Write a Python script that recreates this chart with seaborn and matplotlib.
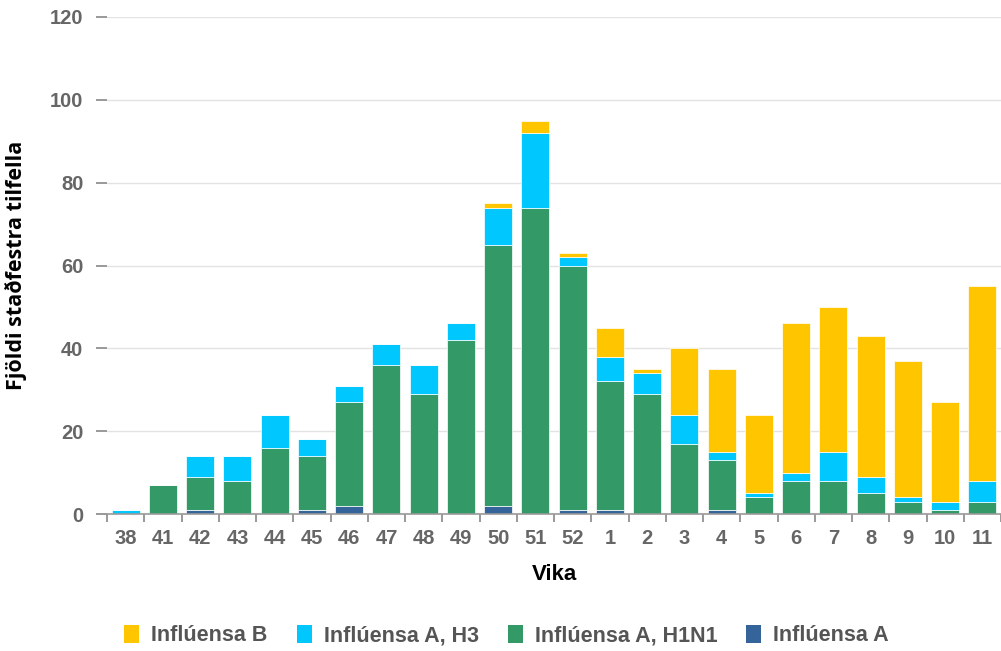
import numpy as np
import matplotlib
matplotlib.use("Agg")
import matplotlib.pyplot as plt
import seaborn as sns
from matplotlib.patches import Patch

# Week labels and counts per influenza type
weeks = ["38", "41", "42", "43", "44", "45", "46", "47", "48", "49", "50", "51",
         "52", "1", "2", "3", "4", "5", "6", "7", "8", "9", "10", "11"]
flu_a = [0, 0, 1, 0, 0, 1, 2, 0, 0, 0, 2, 0, 1, 1, 0, 0, 1, 0, 0, 0, 0, 0, 0, 0]
flu_h1n1 = [0, 7, 8, 8, 16, 13, 25, 36, 29, 42, 63, 74, 59, 31, 29, 17, 12, 4, 8, 8, 5, 3, 1, 3]
flu_h3 = [1, 0, 5, 6, 8, 4, 4, 5, 7, 4, 9, 18, 2, 6, 5, 7, 2, 1, 2, 7, 4, 1, 2, 5]
flu_b = [0, 0, 0, 0, 0, 0, 0, 0, 0, 0, 1, 3, 1, 7, 1, 16, 20, 19, 36, 35, 34, 33, 24, 47]

# stacked bottom -> top
series = [
    ("Inflúensa A", flu_a, "#35649b"),
    ("Inflúensa A, H1N1", flu_h1n1, "#339966"),
    ("Inflúensa A, H3", flu_h3, "#00c8ff"),
    ("Inflúensa B", flu_b, "#ffc600"),
]

sns.set_style("white")
plt.rcParams["font.family"] = ["Liberation Sans", "DejaVu Sans"]

fig = plt.figure(figsize=(10.01, 6.51), dpi=100)
ax = fig.add_axes([0.107, 0.2104, 0.893, 0.7635])

bottom = np.zeros(len(weeks))
for name, vals, col in series:
    sns.barplot(x=weeks, y=vals, order=weeks, bottom=bottom, color=col,
                saturation=1, width=0.75, errorbar=None, ax=ax,
                edgecolor="white", linewidth=0.5)
    bottom = bottom + np.array(vals)

ax.set_ylim(0, 120)
ax.set_xlim(-0.5, len(weeks) - 0.5)
ax.set_yticks(range(0, 121, 20))
ax.yaxis.grid(True, color="#e3e3e3", linewidth=1)
ax.set_axisbelow(True)
for s in ["top", "right", "left"]:
    ax.spines[s].set_visible(False)
ax.spines["bottom"].set_color("#999999")
ax.spines["bottom"].set_linewidth(1.2)

ax.tick_params(axis="y", length=8, width=1.2, color="#888888", pad=9,
               labelsize=14.5, labelcolor="#666666", left=True)
ax.tick_params(axis="x", which="major", length=0, pad=11,
               labelsize=14.5, labelcolor="#666666")
ax.set_xticks(np.arange(-0.5, len(weeks), 1), minor=True)
ax.tick_params(axis="x", which="minor", length=6, width=1.2, color="#888888", bottom=True)
for lab in ax.get_xticklabels() + ax.get_yticklabels():
    lab.set_fontweight("bold")

ax.set_xlabel("Vika", fontsize=16, fontweight="bold", color="black")
ax.xaxis.set_label_coords(0.5, -0.1)
ax.set_ylabel("Fjöldi staðfestra tilfella", fontsize=15.5, fontweight="bold",
              color="black", family=["Open Sans", "DejaVu Sans"])
ax.yaxis.set_label_coords(-0.09, 0.5)

handles = [Patch(facecolor=c, edgecolor="none", label=n) for n, _, c in reversed(series)]
fig.legend(handles=handles, loc="center", bbox_to_anchor=(0.506, 0.024), ncol=4,
           frameon=False, handlelength=0.7, handleheight=0.9, handletextpad=0.55,
           columnspacing=1.35, prop={"size": 15.5, "weight": "bold"}, labelcolor="#555555")

fig.savefig("out.png", dpi=100)
